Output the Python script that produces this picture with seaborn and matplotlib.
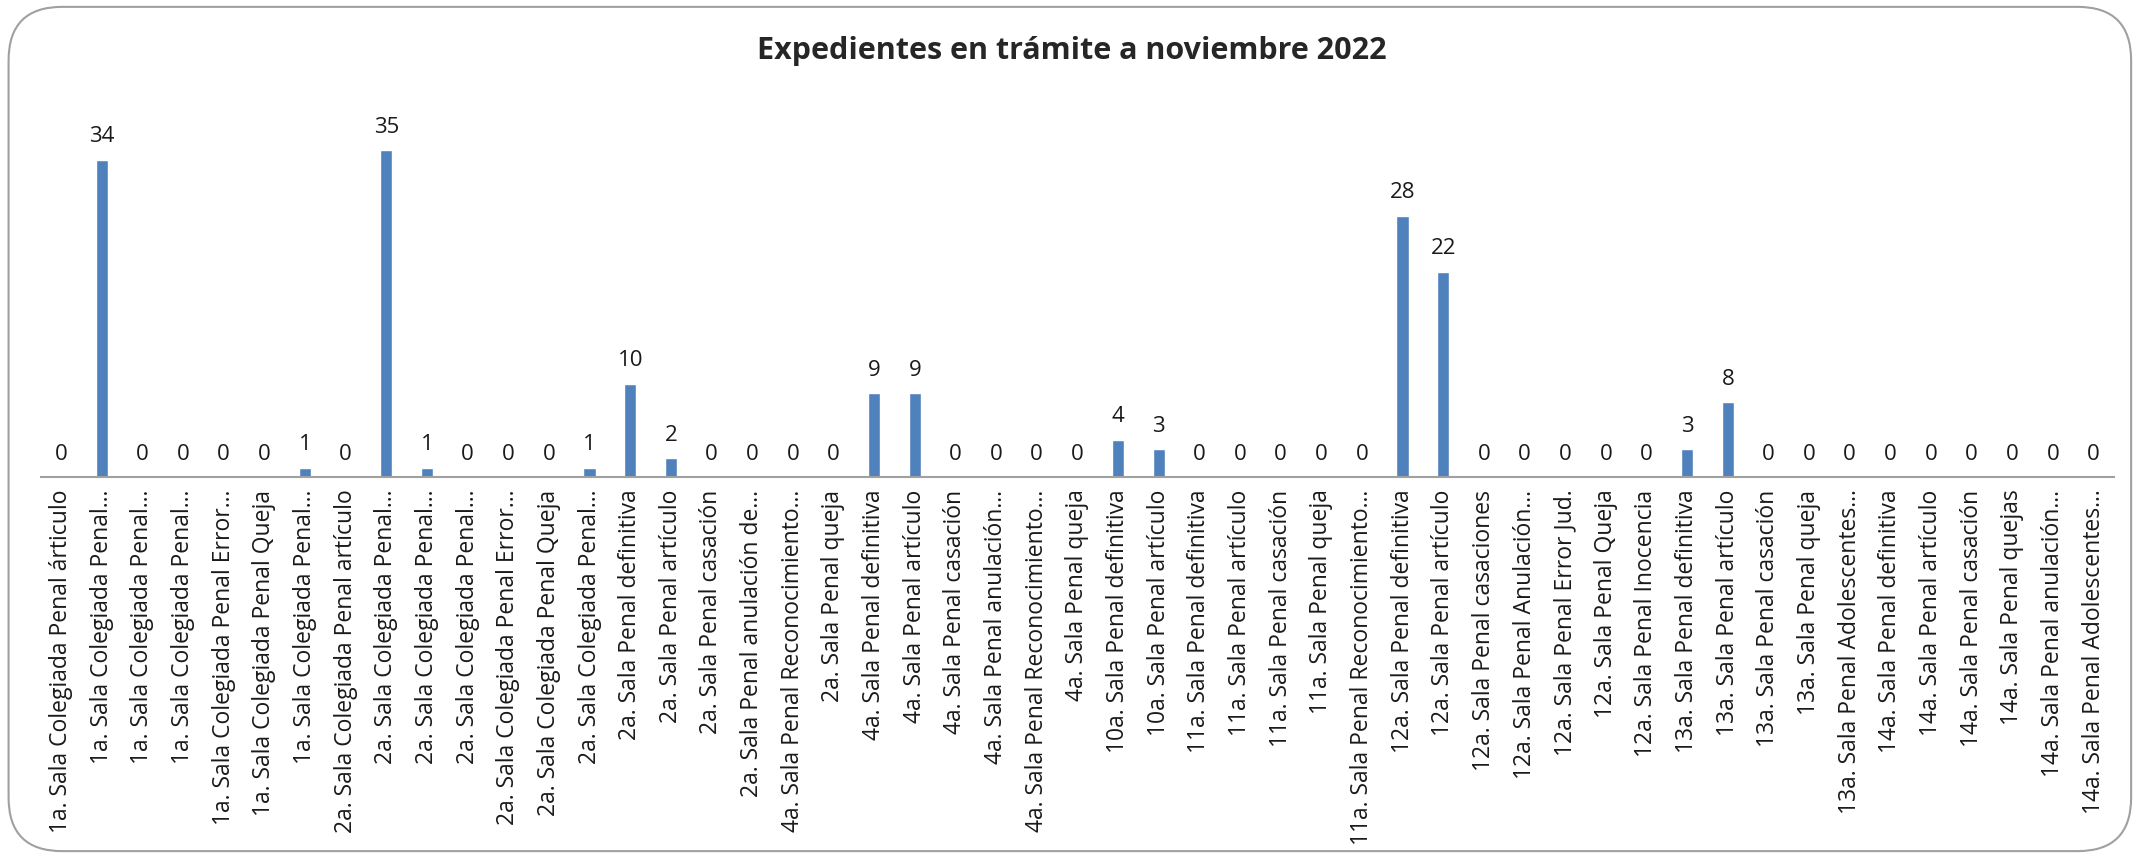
import matplotlib.pyplot as plt
import pandas as pd
import seaborn as sns
from matplotlib.patches import FancyBboxPatch

# 데이터: 분류 이름과 건수
categorias = [
    '1a. Sala Colegiada Penal árticulo',
    '1a. Sala Colegiada Penal…',
    '1a. Sala Colegiada Penal…',
    '1a. Sala Colegiada Penal…',
    '1a. Sala Colegiada Penal Error…',
    '1a. Sala Colegiada Penal Queja',
    '1a. Sala Colegiada Penal…',
    '2a. Sala Colegiada Penal artículo',
    '2a. Sala Colegiada Penal…',
    '2a. Sala Colegiada Penal…',
    '2a. Sala Colegiada Penal…',
    '2a. Sala Colegiada Penal Error…',
    '2a. Sala Colegiada Penal Queja',
    '2a. Sala Colegiada Penal…',
    '2a. Sala Penal definitiva',
    '2a. Sala Penal artículo',
    '2a. Sala Penal casación',
    '2a. Sala Penal anulación de…',
    '4a. Sala Penal Reconocimiento…',
    '2a. Sala Penal queja',
    '4a. Sala Penal definitiva',
    '4a. Sala Penal artículo',
    '4a. Sala Penal casación',
    '4a. Sala Penal anulación…',
    '4a. Sala Penal Reconocimiento…',
    '4a. Sala Penal queja',
    '10a. Sala Penal definitiva',
    '10a. Sala Penal artículo',
    '11a. Sala Penal definitiva',
    '11a. Sala Penal artículo',
    '11a. Sala Penal casación',
    '11a. Sala Penal queja',
    '11a. Sala Penal Reconocimiento…',
    '12a. Sala Penal definitiva',
    '12a. Sala Penal artículo',
    '12a. Sala Penal casaciones',
    '12a. Sala Penal Anulación…',
    '12a. Sala Penal Error Jud.',
    '12a. Sala Penal Queja',
    '12a. Sala Penal Inocencia',
    '13a. Sala Penal definitiva',
    '13a. Sala Penal artículo',
    '13a. Sala Penal casación',
    '13a. Sala Penal queja',
    '13a. Sala Penal Adolescentes…',
    '14a. Sala Penal definitiva',
    '14a. Sala Penal artículo',
    '14a. Sala Penal casación',
    '14a. Sala Penal quejas',
    '14a. Sala Penal anulación…',
    '14a. Sala Penal Adolescentes…',
]
expedientes = [0, 34, 0, 0, 0, 0, 1, 0, 35, 1, 0, 0, 0, 1,
               10, 2, 0, 0, 0, 0,
               9, 9, 0, 0, 0, 0,
               4, 3,
               0, 0, 0, 0, 0,
               28, 22,
               0, 0, 0, 0, 0,
               3, 8,
               0, 0, 0, 0, 0, 0, 0, 0, 0]

# 같은 이름이 여러 번 나오므로 위치 번호로 그림
df = pd.DataFrame({'pos': range(len(categorias)), 'n': expedientes})

sns.set_style('white')
plt.rcParams['font.family'] = ['Open Sans', 'DejaVu Sans']

fig = plt.figure(figsize=(21.44, 8.58), dpi=100)
ax = fig.add_axes([0.019, 0.444, 0.967, 0.435])

sns.barplot(data=df, x='pos', y='n', color='#4F81BD', width=0.3,
            saturation=1, ax=ax)

# 막대 위 값 표시
for i, v in enumerate(expedientes):
    ax.annotate(str(v), (i, v), xytext=(0, 9), textcoords='offset points',
                ha='center', va='bottom', fontsize=16, color='#1a1a1a')

ax.set_xlim(-0.5, len(categorias) - 0.5)
ax.set_ylim(0, 40)
ax.set_xticks(range(len(categorias)))
ax.set_xticklabels(categorias, rotation=90, fontsize=16.5, color='#1a1a1a')
ax.tick_params(axis='x', length=0, pad=9)
ax.set_yticks([])
ax.set_xlabel('')
ax.set_ylabel('')
for s in ['top', 'right', 'left']:
    ax.spines[s].set_visible(False)
ax.spines['bottom'].set_color('#A0A0A0')
ax.spines['bottom'].set_linewidth(1.5)

fig.text(0.5, 0.94, 'Expedientes en trámite a noviembre 2022',
         ha='center', va='center', fontsize=22, fontweight='bold')

# 차트 테두리
borde = FancyBboxPatch((0.004, 0.008), 0.99, 0.984,
                       boxstyle='round,pad=0,rounding_size=0.025',
                       transform=fig.transFigure, fill=False,
                       edgecolor='#A0A0A0', linewidth=1.5,
                       mutation_aspect=2144 / 858)
fig.patches.append(borde)

fig.savefig('out.png', dpi=100)
